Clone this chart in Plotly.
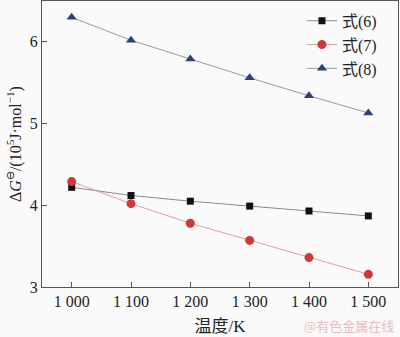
import plotly.graph_objects as go

temps = [1000, 1100, 1200, 1300, 1400, 1500]
tick_labels = ["1 000", "1 100", "1 200", "1 300", "1 400", "1 500"]
eq6 = [4.22, 4.12, 4.05, 3.99, 3.93, 3.87]
eq7 = [4.29, 4.02, 3.78, 3.57, 3.36, 3.155]
eq8 = [6.30, 6.02, 5.79, 5.56, 5.34, 5.13]
names = ["式(6)", "式(7)", "式(8)"]

fig = go.Figure()
fig.add_trace(go.Scatter(x=temps, y=eq6, name=names[0], mode="lines+markers",
                         line=dict(color="#8a8a8a", width=1),
                         marker=dict(symbol="square", size=7, color="#111111")))
fig.add_trace(go.Scatter(x=temps, y=eq7, name=names[1], mode="lines+markers",
                         line=dict(color="#d9a0a6", width=1),
                         marker=dict(symbol="circle", size=9, color="#d03838")))
fig.add_trace(go.Scatter(x=temps, y=eq8, name=names[2], mode="lines+markers",
                         line=dict(color="#9a9aa2", width=1),
                         marker=dict(symbol="triangle-up", size=9, color="#2e3f7d")))

font = dict(family="Liberation Serif, Noto Sans CJK SC", size=16, color="#222222")
axis_common = dict(showline=True, linecolor="#555555", linewidth=1.2, mirror=True,
                   ticks="inside", ticklen=5, tickcolor="#555555", showgrid=False,
                   zeroline=False, tickfont=font)

fig.update_layout(
    width=400, height=337,
    margin=dict(l=42, r=2, t=1, b=50),
    paper_bgcolor="#fafafb", plot_bgcolor="#fafafb",
    font=font,
    showlegend=True,
    legend=dict(x=0.955, y=0.99, xanchor="right", yanchor="top",
                bgcolor="rgba(0,0,0,0)",
                font=dict(family="Liberation Serif, Noto Sans CJK SC", size=16, color="#222222"),
                tracegroupgap=0, itemwidth=30),
    xaxis=dict(range=[950, 1550], tickvals=temps, ticktext=tick_labels,
               title=dict(text="温度/K", font=dict(family="Liberation Serif, Noto Sans CJK SC", size=17), standoff=10),
               **axis_common),
    yaxis=dict(range=[3, 6.5], tickvals=[3, 4, 5, 6],
               title=dict(text="Δ<i>G</i><sup>⊖</sup>/(10<sup>5</sup>J·mol<sup>−1</sup>)",
                          font=dict(family="Liberation Serif", size=16), standoff=4),
               **axis_common),
)
fig.add_annotation(text="@有色金属在线", xref="paper", yref="paper", x=0.995, y=-0.133,
                   xanchor="right", yanchor="middle", showarrow=False,
                   font=dict(family="Noto Sans CJK SC", size=13, color="#eab9bd"))

fig.write_html("out.html")
